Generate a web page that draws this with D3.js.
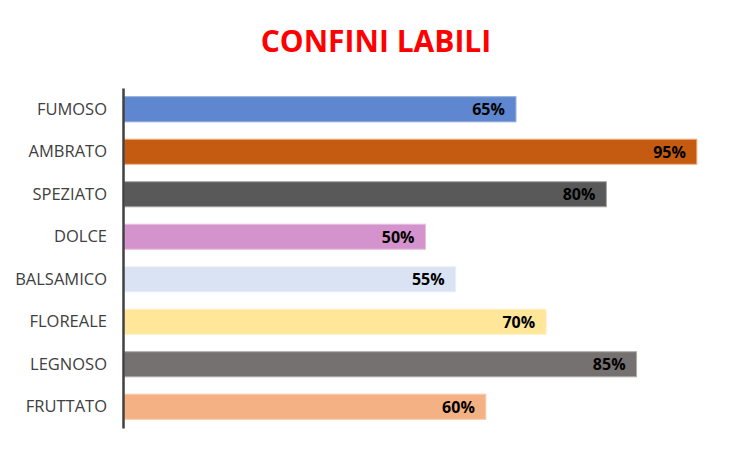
<!DOCTYPE html>
<html>
<head>
<meta charset="utf-8">
<script src="https://cdn.jsdelivr.net/npm/d3@7"></script>
<style>
  body { margin: 0; background: #fff; }
</style>
</head>
<body>
<div id="chart"></div>
<script>
let categories = ["FUMOSO", "AMBRATO", "SPEZIATO", "DOLCE", "BALSAMICO", "FLOREALE", "LEGNOSO", "FRUTTATO"];
let values = [65, 95, 80, 50, 55, 70, 85, 60];
let colours = ["#5F87CF", "#C55A11", "#595959", "#D493CC", "#DAE3F3", "#FFE699", "#767171", "#F4B183"];
let borders = ["#8EAADB", "#F4B183", "#A6A6A6", "#E6C1E0", "#E9EEF8", "#FFF0C2", "#AFABAB", "#F8CBAD"];
let title = "CONFINI LABILI";

let dims = { width: 752, height: 452, left: 123, top: 88, bottom: 428 }

const svg = d3.select("#chart").append("svg")
  .attr("width", dims.width).attr("height", dims.height)
  .style("font-family", "'Open Sans', sans-serif");

const x = d3.scaleLinear().domain([0, 100]).range([dims.left + 1, 727]);
const y = d3.scaleBand().domain(categories).range([dims.top, dims.bottom])
  .paddingInner(0.41).paddingOuter(0.205);

svg.append("text")
  .attr("x", 376).attr("y", 52)
  .attr("text-anchor", "middle")
  .attr("fill", "#FF0000")
  .style("font-size", "30px")
  .style("font-weight", "bold")
  .text(title);

svg.selectAll("rect.bar")
  .data(values)
  .join("rect")
  .attr("class", "bar")
  .attr("x", x(0))
  .attr("y", (d, i) => y(categories[i]))
  .attr("width", d => x(d) - x(0))
  .attr("height", y.bandwidth())
  .attr("fill", (d, i) => colours[i])
  .attr("stroke", (d, i) => borders[i])
  .attr("stroke-width", 1);

// value labels inside the bar end
svg.selectAll("text.val")
  .data(values)
  .join("text")
  .attr("class", "val")
  .attr("x", d => x(d) - 11)
  .attr("y", (d, i) => y(categories[i]) + y.bandwidth() / 2)
  .attr("dy", "0.36em")
  .attr("text-anchor", "end")
  .style("font-size", "16px")
  .style("font-weight", "bold")
  .attr("fill", "#000")
  .text(d => d + "%");

const yAxis = d3.axisLeft(y).tickSize(0).tickPadding(16);
const g = svg.append("g").attr("transform", `translate(${dims.left},0)`).call(yAxis);
g.select(".domain").attr("stroke", "#404040").attr("stroke-width", 2.5);
g.selectAll(".tick text")
  .attr("fill", "#404040")
  .style("font-size", "16.5px")
  .style("font-family", "'Open Sans', sans-serif");
</script>
</body>
</html>
